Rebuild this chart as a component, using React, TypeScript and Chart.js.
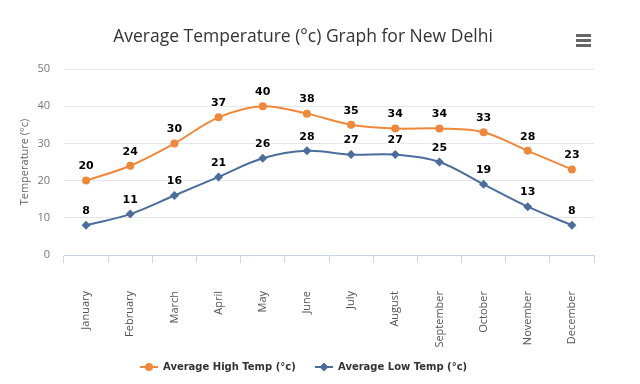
import React, { useEffect, useRef } from "react";
import { Chart, registerables } from "chart.js";

Chart.register(...registerables);

const months = ["January", "February", "March", "April", "May", "June", "July", "August", "September", "October", "November", "December"];
const highTemps = [20, 24, 30, 37, 40, 38, 35, 34, 34, 33, 28, 23];
const lowTemps = [8, 11, 16, 21, 26, 28, 27, 27, 25, 19, 13, 8];
const yTicks = [0, 10, 20, 30, 40, 50];

const titleText = "Average Temperature (°c) Graph for New Delhi";
const highLabel = "Average High Temp (°c)";
const lowLabel = "Average Low Temp (°c)";
const yTitle = "Temperature (°c)";

const ORANGE = "#f0883a";
const BLUE = "#4a6d9e";

const decorPlugin = {
  id: "decor",
  afterDatasetsDraw(chart: any) {
    const ctx = chart.ctx;
    ctx.save();
    chart.data.datasets.forEach((ds: any, i: number) => {
      const meta = chart.getDatasetMeta(i);
      meta.data.forEach((pt: any, j: number) => {
        const txt = String(ds.data[j]);
        ctx.font = "bold 11px 'DejaVu Sans'";
        ctx.textAlign = "center";
        ctx.textBaseline = "middle";
        ctx.lineWidth = 3;
        ctx.strokeStyle = "rgba(255,255,255,0.9)";
        ctx.lineJoin = "round";
        ctx.strokeText(txt, pt.x, pt.y - 14);
        ctx.fillStyle = "#000";
        ctx.fillText(txt, pt.x, pt.y - 14);
      });
    });
    ctx.restore();
  },
  afterDraw(chart: any) {
    const ctx = chart.ctx;
    ctx.save();
    // title
    ctx.font = "17.5px 'Open Sans'";
    ctx.fillStyle = "#333333";
    ctx.textAlign = "center";
    ctx.textBaseline = "middle";
    ctx.fillText(titleText, 303, 37);
    // hamburger
    ctx.fillStyle = "#666666";
    for (let k = 0; k < 3; k++) {
      ctx.fillRect(576, 34 + k * 5, 15, 3);
    }
    // y axis title
    ctx.save();
    ctx.translate(25, 162);
    ctx.rotate(-Math.PI / 2);
    ctx.font = "11px 'Open Sans'";
    ctx.fillStyle = "#666666";
    ctx.textAlign = "center";
    ctx.textBaseline = "middle";
    ctx.fillText(yTitle, 0, 0);
    ctx.restore();
    // legend
    const items = [
      { label: highLabel, color: ORANGE, style: "circle", x: 140 },
      { label: lowLabel, color: BLUE, style: "diamond", x: 315 },
    ];
    const ly = 367;
    items.forEach((it) => {
      ctx.strokeStyle = it.color;
      ctx.lineWidth = 2;
      ctx.beginPath();
      ctx.moveTo(it.x, ly);
      ctx.lineTo(it.x + 18, ly);
      ctx.stroke();
      ctx.fillStyle = it.color;
      const cx = it.x + 9;
      ctx.beginPath();
      if (it.style === "circle") {
        ctx.arc(cx, ly, 4, 0, Math.PI * 2);
      } else {
        ctx.moveTo(cx, ly - 4.5);
        ctx.lineTo(cx + 4.5, ly);
        ctx.lineTo(cx, ly + 4.5);
        ctx.lineTo(cx - 4.5, ly);
        ctx.closePath();
      }
      ctx.fill();
      ctx.font = "bold 10px 'DejaVu Sans'";
      ctx.fillStyle = "#333333";
      ctx.textAlign = "left";
      ctx.textBaseline = "middle";
      ctx.fillText(it.label, it.x + 23, ly);
    });
    ctx.restore();
  },
};

export default function App() {
  const ref = useRef<HTMLCanvasElement | null>(null);
  useEffect(() => {
    document.body.style.margin = "0";
    const canvas = ref.current!;
    const chart = new Chart(canvas, {
      type: "line",
      data: {
        labels: months,
        datasets: [
          {
            label: highLabel,
            data: highTemps,
            borderColor: ORANGE,
            backgroundColor: ORANGE,
            borderWidth: 2,
            pointStyle: "circle",
            pointRadius: 4,
            pointBorderWidth: 0,
            tension: 0.35,
          },
          {
            label: lowLabel,
            data: lowTemps,
            borderColor: BLUE,
            backgroundColor: BLUE,
            borderWidth: 2,
            pointStyle: "rectRot",
            pointRadius: 4.5,
            pointBorderWidth: 0,
            tension: 0.35,
          },
        ],
      },
      options: {
        responsive: false,
        animation: false,
        layout: { padding: { top: 69, right: 46, left: 0, bottom: 0 } },
        plugins: {
          legend: { display: false },
          title: { display: false },
          tooltip: { enabled: false },
        },
        scales: {
          x: {
            offset: true,
            afterFit(scale: any) {
              scale.height = 129;
            },
            grid: {
              offset: true,
              drawOnChartArea: false,
              tickLength: 8,
              color: "#ccd6eb",
            },
            border: { color: "#ccd6eb" },
            ticks: {
              minRotation: 90,
              maxRotation: 90,
              padding: 28,
              color: "#555555",
              font: { family: "'Open Sans'", size: 11 },
            },
          },
          y: {
            min: 0,
            max: 50,
            afterFit(scale: any) {
              scale.width = 64;
            },
            afterBuildTicks(scale: any) {
              scale.ticks = yTicks.map((v) => ({ value: v }));
            },
            grid: { color: "#e6e6e6", drawTicks: false },
            border: { display: false },
            ticks: {
              padding: 14,
              color: "#777777",
              font: { family: "'Open Sans'", size: 11 },
            },
          },
        },
      },
      plugins: [decorPlugin],
    });
    return () => chart.destroy();
  }, []);
  return <canvas ref={ref} width={640} height={384} style={{ display: "block" }} />;
}
